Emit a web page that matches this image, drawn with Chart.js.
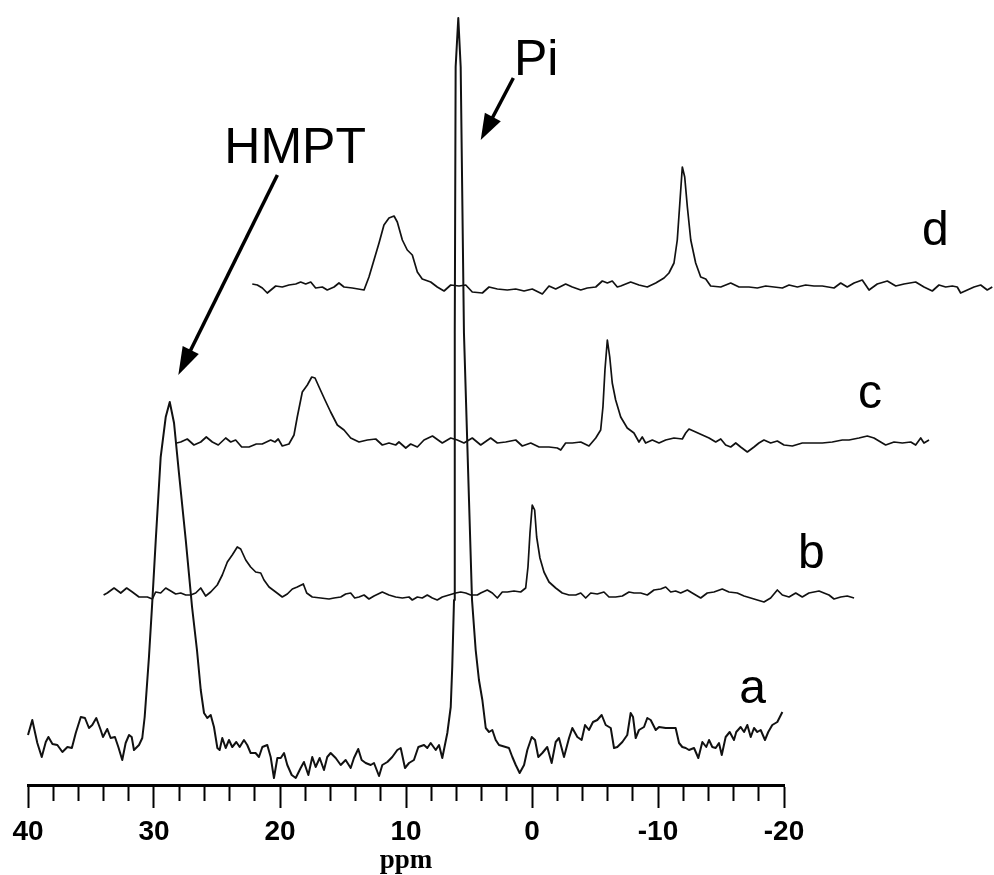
<!DOCTYPE html>
<html>
<head>
<meta charset="utf-8">
<script src="https://cdn.jsdelivr.net/npm/chart.js@4.4.0/dist/chart.umd.min.js"></script>
<style>
  html, body { margin: 0; padding: 0; background: #ffffff; }
  #wrap { width: 994px; height: 875px; }
</style>
</head>
<body>
<div id="wrap"><canvas id="nmr" width="994" height="875"></canvas></div>
<script>
// ---------- DATA (31P NMR spectra, intensity in arbitrary units) ----------
const traceNames = ['a', 'b', 'c', 'd'];
const peakLabels = ['HMPT', 'Pi'];
const axisTitle = 'ppm';
const majorTickValues = [40, 30, 20, 10, 0, -10, -20];
const tickLabels = ['40', '30', '20', '10', '0', '-10', '-20'];

// stacked-plot offsets per trace (horizontal shift in ppm, vertical rise in a.u.)
const stackShiftPpm = [0, 6, 12, 18];
const stackRise = [40, 190, 340, 490];

const ppmA = [40.0,39.66,39.26,38.91,38.59,38.38,38.06,37.67,37.27,36.87,
  36.52,36.21,35.81,35.48,35.16,34.90,34.58,34.23,34.05,33.71,
  33.44,33.10,32.83,32.52,32.25,31.98,31.77,31.59,31.19,30.93,
  30.74,30.66,30.40,30.16,29.86,29.47,29.07,28.75,28.41,28.02,
  27.48,26.98,26.59,26.29,26.03,25.77,25.50,25.24,24.97,24.79,
  24.58,24.31,24.05,23.79,23.47,23.20,22.86,22.60,22.33,21.94,
  21.67,21.40,21.01,20.74,20.48,20.21,19.94,19.68,19.42,19.07,
  18.75,18.36,18.10,17.75,17.44,17.17,16.85,16.51,16.25,15.98,
  15.58,15.18,14.79,14.39,14.13,13.79,13.52,13.20,12.80,12.54,
  12.14,11.88,11.48,11.09,10.69,10.42,10.08,9.76,9.37,9.02,
  8.57,8.31,8.04,7.64,7.38,7.12,6.72,6.45,6.33,6.19,
  6.13,6.06,5.85,5.66,5.40,5.00,4.76,4.47,4.21,3.94,
  3.67,3.41,3.15,2.88,2.62,2.09,1.83,1.56,1.29,0.98,
  0.63,0.37,0.02,-0.24,-0.50,-0.82,-1.21,-1.56,-1.88,-2.14,
  -2.54,-2.94,-3.20,-3.60,-3.94,-4.21,-4.52,-4.84,-5.18,-5.53,
  -5.85,-6.25,-6.51,-6.77,-7.17,-7.56,-7.83,-8.02,-8.23,-8.49,
  -8.89,-9.15,-9.42,-9.82,-10.08,-10.61,-11.01,-11.40,-11.67,-11.93,
  -12.20,-12.46,-12.86,-13.20,-13.52,-13.83,-14.05,-14.31,-14.58,-14.84,
  -15.06,-15.37,-15.69,-16.03,-16.21,-16.56,-16.83,-17.09,-17.36,-17.62,
  -17.88,-18.15,-18.49,-18.75,-19.07,-19.47,-19.87];
const intA = [10,25,2,-12,3,8,1,0,-7,-2,
  -3,12,28,27,17,20,27,15,8,16,
  7,8,-2,-15,2,10,8,-5,0,7,
  28,42,88,138,205,288,328,343,322,272,
  205,138,95,55,32,27,30,18,-3,-5,
  7,-3,5,-2,3,-2,5,0,-8,-8,
  -12,-2,0,-12,-33,-13,-13,-8,-20,-30,
  -33,-23,-17,-30,-12,-22,-13,-25,-12,-8,
  -13,-20,-15,-23,-13,-4,-15,-18,-20,-18,
  -31,-20,-17,-12,-5,-3,-23,-18,-15,-2,
  0,-3,2,-5,0,-13,12,38,78,145,
  412,678,727,678,412,245,145,95,65,45,
  17,13,15,5,0,-2,-3,-12,-20,-28,
  -20,-5,8,5,-12,-8,-2,-18,3,7,
  -12,7,17,8,5,20,15,23,25,30,
  20,17,-3,-2,3,10,32,28,7,15,
  18,27,25,15,18,17,17,17,2,-2,
  -3,-5,-3,-13,3,-2,5,-2,-3,2,
  -10,8,13,5,13,18,13,20,8,17,
  13,15,5,13,20,23,33];

const ppmB = [40.0,39.71,39.17,38.64,38.17,37.72,37.19,36.53,36.13,35.87,
  35.47,35.07,34.67,34.28,33.88,33.48,33.09,32.69,32.29,31.90,
  31.50,30.98,30.58,30.18,29.79,29.39,29.12,28.72,28.33,27.93,
  27.53,27.27,26.87,26.34,25.82,25.42,25.02,24.63,24.15,23.88,
  23.44,22.77,22.11,21.71,21.18,20.79,20.39,20.07,19.73,19.33,
  18.94,18.54,17.88,17.35,16.82,16.29,15.76,15.50,15.10,14.71,
  14.31,13.91,13.52,13.12,12.59,12.06,11.66,11.26,10.87,10.34,
  10.07,9.55,9.15,8.75,8.36,7.96,7.43,6.90,6.50,6.32,
  6.16,5.98,5.79,5.63,5.37,5.05,4.65,4.12,3.60,3.06,
  2.53,2.13,1.74,1.34,0.82,0.29,-0.11,-0.64,-1.17,-1.70,
  -2.10,-2.63,-3.15,-3.68,-4.21,-4.61,-5.01,-5.40,-5.80,-6.33,
  -6.72,-7.39,-7.91,-8.44,-9.10,-9.63,-10.29,-10.83,-11.36,-11.88,
  -12.41,-12.94,-13.47,-13.87,-14.40,-14.93,-15.45,-15.98,-16.38,-16.78,
  -17.17,-17.57,-17.97,-18.50,-19.02,-19.56];
const intB = [0,2,7,2,7,3,-2,-2,-4,3,
  2,7,4,1,2,0,0,2,7,-1,
  3,10,20,33,40,48,46,35,28,23,
  22,15,8,3,-2,1,6,8,11,2,
  -2,-3,-4,-3,-2,1,2,-3,-2,0,
  -4,-1,3,0,-2,-3,-2,-5,-2,-3,
  0,-3,-5,-2,0,2,3,2,0,0,
  2,5,2,-3,3,3,4,3,7,28,
  62,90,85,58,37,23,13,7,2,0,
  0,2,-3,2,1,3,-2,-2,-1,3,
  2,2,0,5,6,8,3,4,2,5,
  2,-3,2,3,6,3,2,-1,-3,-5,
  -7,-3,5,0,-2,2,-2,2,3,4,
  2,0,-4,-2,-1,-3];

const ppmC = [40.2,39.88,39.36,38.83,38.29,37.85,37.37,36.90,36.31,35.91,
  35.52,35.04,34.46,33.88,33.41,32.74,32.40,32.14,31.82,31.29,
  30.89,30.63,30.23,29.83,29.48,29.22,28.90,28.43,27.98,27.45,
  26.92,26.39,25.73,25.07,24.40,23.88,23.35,22.82,22.56,22.02,
  21.63,21.10,20.57,19.90,19.12,18.45,17.93,17.40,16.74,16.07,
  15.28,14.75,14.09,13.29,12.77,12.10,11.44,10.65,9.99,9.72,
  9.33,8.80,8.13,7.48,6.94,6.55,6.37,6.21,6.02,5.83,
  5.63,5.36,4.96,4.44,3.91,3.51,3.25,2.98,2.45,1.92,
  1.39,0.73,0.07,-0.20,-0.46,-0.99,-1.52,-2.05,-2.58,-2.98,
  -3.37,-3.77,-4.17,-4.56,-5.09,-5.62,-6.01,-6.41,-6.94,-7.47,
  -8.00,-8.66,-9.45,-10.25,-11.04,-11.83,-12.63,-13.16,-13.95,-14.61,
  -15.14,-15.67,-16.07,-16.73,-17.39,-18.06,-18.45,-18.85,-19.11,-19.51];
const intC = [2,3,6,0,3,8,3,0,7,3,
  5,-2,-2,1,1,5,3,6,-1,1,
  10,28,53,60,68,67,58,45,33,20,
  15,7,3,5,6,0,2,0,3,-3,
  1,-2,5,9,2,7,5,2,7,0,
  7,2,3,5,-1,2,-2,-2,-3,-5,
  2,2,3,-1,7,15,38,75,105,88,
  62,45,28,17,12,3,8,2,5,2,
  5,7,6,12,16,13,10,7,3,6,
  0,-2,2,-2,-7,-2,2,5,2,4,
  0,-1,2,2,2,3,5,5,7,9,
  7,3,0,3,2,3,0,7,2,5];

const ppmD = [40.20,39.80,39.40,39.01,38.34,37.82,37.29,36.75,36.36,35.96,
  35.56,35.17,34.64,34.25,33.71,33.32,32.92,32.26,31.33,30.94,
  30.54,30.14,29.75,29.35,28.95,28.69,28.29,27.90,27.50,27.10,
  26.71,26.04,25.52,24.98,24.45,23.79,23.26,22.74,21.94,21.41,
  20.75,19.96,19.29,18.63,17.98,17.18,16.65,16.12,15.33,14.80,
  14.13,13.61,12.94,12.42,12.02,11.63,11.23,10.96,10.17,9.51,
  8.85,8.18,7.52,7.13,6.73,6.47,6.25,6.07,5.88,5.67,
  5.40,5.01,4.61,4.21,3.82,3.02,2.23,1.57,0.78,0.12,
  -0.55,-1.21,-1.87,-2.40,-3.06,-3.72,-4.38,-5.04,-5.97,-6.50,
  -7.02,-7.56,-8.21,-8.75,-9.40,-10.20,-10.87,-11.52,-12.45,-13.11,
  -13.77,-14.30,-14.83,-15.36,-15.75,-16.02,-16.55,-17.08,-17.61,-18.13,-18.53];
const intD = [11,10,7,2,9,8,10,11,13,11,
  13,7,8,5,8,12,8,7,5,18,
  35,52,70,77,79,73,55,45,40,23,
  16,13,8,4,10,9,10,3,2,8,
  6,5,6,4,6,1,9,6,11,8,
  5,7,8,14,12,14,8,9,13,10,
  8,12,17,22,32,55,95,128,118,88,
  55,32,18,16,9,8,12,8,8,7,
  9,8,7,10,8,10,9,9,7,12,
  8,12,15,5,11,14,9,11,13,8,
  4,10,8,9,8,2,5,8,10,5,8];

// ---------- BUILD ----------
const tracePpm = [ppmA, ppmB, ppmC, ppmD];
const traceInt = [intA, intB, intC, intD];
const traceWidth = [2.0, 1.7, 1.7, 1.7];

const datasets = traceNames.map((name, i) => {
  const p = tracePpm[i], v = traceInt[i];
  const n = Math.min(p.length, v.length);
  const pts = [];
  for (let j = 0; j < n; j++) {
    pts.push({ x: p[j] - stackShiftPpm[i], y: v[j] + stackRise[i] });
  }
  return {
    label: name,
    data: pts,
    showLine: true,
    borderColor: '#111111',
    borderWidth: traceWidth[i],
    pointRadius: 0,
    pointHoverRadius: 0,
    fill: false,
    tension: 0,
    clip: false,
    borderJoinStyle: 'round'
  };
});

// annotation anchors in data units (ppm on display axis, a.u.)
const textAnnotations = [
  { text: peakLabels[0], ppm: 18.8, v: 622, size: 50, align: 'center' },
  { text: peakLabels[1], ppm: 1.43, v: 710, size: 50, align: 'left' },
  { text: traceNames[0], ppm: -17.5, v: 82, size: 48, align: 'center' },
  { text: traceNames[1], ppm: -22.18, v: 217, size: 48, align: 'center' },
  { text: traceNames[2], ppm: -26.83, v: 377, size: 48, align: 'center' },
  { text: traceNames[3], ppm: -32.02, v: 540, size: 48, align: 'center' }
];
const arrowAnnotations = [
  { from: [20.21, 610], to: [28.07, 410], head: 28, half: 9 },
  { from: [1.48, 707], to: [4.07, 645], head: 26, half: 9 }
];

const annotationPlugin = {
  id: 'nmrAnnotations',
  afterDraw(chart) {
    const { ctx, scales: { x, y } } = chart;
    ctx.save();
    ctx.fillStyle = '#000';
    ctx.strokeStyle = '#000';
    ctx.textBaseline = 'alphabetic';
    for (const t of textAnnotations) {
      ctx.font = `${t.size}px "Liberation Sans", Arial, Helvetica, sans-serif`;
      ctx.textAlign = t.align;
      ctx.fillText(t.text, x.getPixelForValue(t.ppm), y.getPixelForValue(t.v));
    }
    for (const a of arrowAnnotations) {
      const x0 = x.getPixelForValue(a.from[0]), y0 = y.getPixelForValue(a.from[1]);
      const x1 = x.getPixelForValue(a.to[0]), y1 = y.getPixelForValue(a.to[1]);
      const dx = x1 - x0, dy = y1 - y0, len = Math.hypot(dx, dy);
      const ux = dx / len, uy = dy / len;
      const bx = x1 - ux * a.head, by = y1 - uy * a.head;
      ctx.lineWidth = 3.5;
      ctx.lineCap = 'butt';
      ctx.beginPath();
      ctx.moveTo(x0, y0);
      ctx.lineTo(bx + ux * 2, by + uy * 2);
      ctx.stroke();
      ctx.beginPath();
      ctx.moveTo(x1, y1);
      ctx.lineTo(bx - uy * a.half, by + ux * a.half);
      ctx.lineTo(bx + uy * a.half, by - ux * a.half);
      ctx.closePath();
      ctx.fill();
    }
    ctx.restore();
  }
};

new Chart(document.getElementById('nmr'), {
  type: 'scatter',
  data: { datasets },
  options: {
    responsive: false,
    animation: false,
    devicePixelRatio: 1,
    events: [],
    layout: { padding: { left: 28, right: 210, top: 0, bottom: 0 } },
    plugins: { legend: { display: false }, tooltip: { enabled: false } },
    scales: {
      x: {
        type: 'linear',
        position: 'bottom',
        min: -20,
        max: 40,
        reverse: true,
        afterFit: (s) => { s.height = 90; },
        border: { display: true, color: '#000', width: 3 },
        grid: {
          drawOnChartArea: false,
          drawTicks: true,
          tickLength: 23,
          tickWidth: 2,
          tickColor: '#000',
          tickBorderDash: (c) => (c.tick && majorTickValues.includes(c.tick.value)) ? [] : [14, 60]
        },
        ticks: {
          stepSize: 2,
          autoSkip: false,
          maxRotation: 0,
          minRotation: 0,
          padding: 7,
          color: '#000',
          font: { family: '"Liberation Sans", Arial, sans-serif', size: 28, weight: 'bold' },
          callback: (value) => {
            const k = majorTickValues.indexOf(value);
            return k >= 0 ? tickLabels[k] : '';
          }
        },
        title: {
          display: true,
          text: axisTitle,
          color: '#000',
          font: { family: '"Liberation Serif", "Times New Roman", serif', size: 27, weight: 'bold', lineHeight: 1.0 },
          padding: { top: 0, bottom: 0 }
        }
      },
      y: { display: false, min: 0, max: 785 }
    }
  },
  plugins: [annotationPlugin]
});
</script>
</body>
</html>
